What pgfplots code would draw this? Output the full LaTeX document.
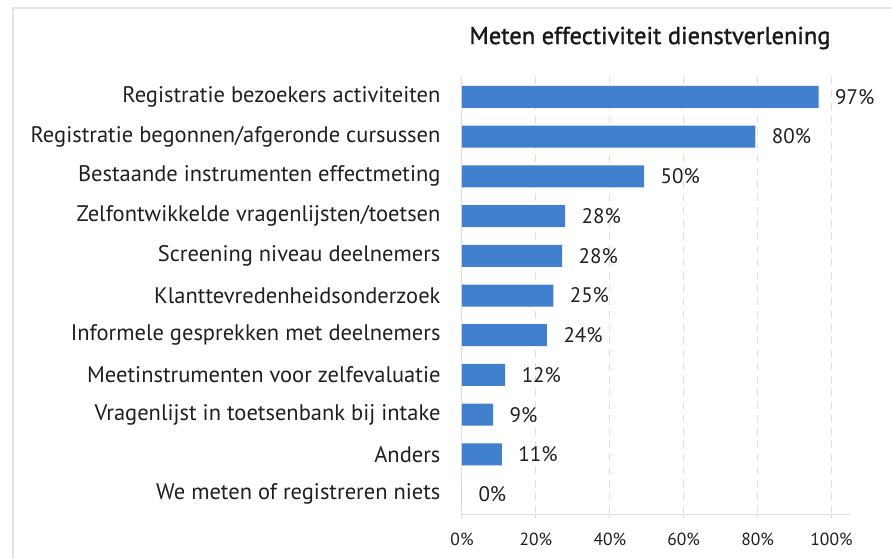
\documentclass[border=0pt]{standalone}
\usepackage{pgfplots}
\pgfplotsset{compat=1.18}
\usepackage{fontspec}
\setmainfont{PT Sans}
\newfontfamily\titlefont[FakeBold=1.2]{PT Sans}
\definecolor{barblue}{HTML}{4080CC}
\definecolor{framegray}{HTML}{E3E3E3}
\definecolor{gridgray}{HTML}{DDDDDD}
\begin{document}
\begin{tikzpicture}[x=1pt,y=1pt]
\useasboundingbox (0,0) rectangle (892,-559);
\draw[framegray,line width=1.5pt] (13,-600) -- (13,-8) -- (950,-8);
\node[font=\titlefont\fontsize{24.5}{28}\selectfont, text=black!90] at (650,-38) {Meten effectiviteit dienstverlening};
\begin{axis}[
  at={(462pt,-514pt)}, anchor=south west,
  scale only axis, width=388pt, height=437pt,
  xbar, bar width=22pt,
  xmin=0, xmax=105,
  ymin=-0.5, ymax=10.5, y dir=reverse,
  ytick={0,...,10},
  yticklabels={Registratie bezoekers activiteiten,Registratie begonnen/afgeronde cursussen,Bestaande instrumenten effectmeting,Zelfontwikkelde vragenlijsten/toetsen,Screening niveau deelnemers,Klanttevredenheidsonderzoek,Informele gesprekken met deelnemers,Meetinstrumenten voor zelfevaluatie,Vragenlijst in toetsenbank bij intake,Anders,We meten of registreren niets},
  yticklabel style={font=\fontsize{22.5}{26}\selectfont, text=black!88},
  major y tick style={draw=none},
  y tick label style={xshift=-14pt},
  xtick={0,20,...,100},
  xticklabel={\pgfmathprintnumber{\tick}\%},
  xticklabel style={font=\fontsize{17.5}{21}\selectfont, text=black!88, yshift=-11pt},
  /pgf/number format/assume math mode=true,
  xmajorgrids, grid style={gridgray, dashed, line width=1pt, dash pattern=on 7pt off 6pt},
  major x tick style={gridgray, line width=1pt},
  tick align=outside, major tick length=4pt,
  axis x line*=bottom, axis y line*=left,
  axis line style={gridgray, line width=1pt, -},
  x axis line style={-},
  point meta=explicit symbolic,
  nodes near coords={\pgfplotspointmeta\%},
  nodes near coords style={font=\fontsize{21}{25}\selectfont, text=black!88, anchor=west, xshift=13pt},
]
\addplot[fill=barblue, draw=none] coordinates {
(96.5,0) [97]
(79.4,1) [80]
(49.3,2) [50]
(27.9,3) [28]
(27.1,4) [28]
(24.7,5) [25]
(23.0,6) [24]
(11.7,7) [12]
(8.4,8) [9]
(10.8,9) [11]
(0,10) [0]
};
\end{axis}
\end{tikzpicture}
\end{document}
